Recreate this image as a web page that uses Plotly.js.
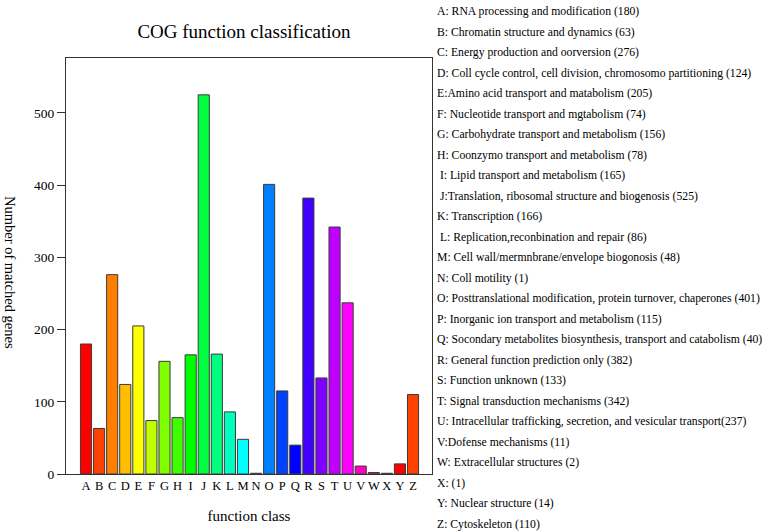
<!DOCTYPE html>
<html>
<head>
<meta charset="utf-8">
<script src="https://cdn.plot.ly/plotly-3.0.1.min.js"></script>
<style>html,body{margin:0;padding:0;background:#fff;}#chart{width:767px;height:532px;}</style>
</head>
<body>
<div id="chart"></div>
<script>
const categories = ["A","B","C","D","E","F","G","H","I","J","K","L","M","N","O","P","Q","R","S","T","U","V","W","X","Y","Z"];
const counts = [180,63,276,124,205,74,156,78,165,525,166,86,48,1,401,115,40,382,133,342,237,11,2,1,14,110];
const descriptions = [
  "A: RNA processing and modification (180)",
  "B: Chromatin structure and dynamics (63)",
  "C: Energy production and oorversion (276)",
  "D: Coll cycle control, cell division, chromosomo partitioning (124)",
  "E:Amino acid transport and matabolism (205)",
  "F: Nucleotide transport and mgtabolism (74)",
  "G: Carbohydrate transport and metabolism (156)",
  "H: Coonzymo transport and metabolism (78)",
  " I: Lipid transport and metabolism (165)",
  " J:Translation, ribosomal structure and biogenosis (525)",
  "K: Transcription (166)",
  " L: Replication,reconbination and repair (86)",
  "M: Cell wall/mermnbrane/envelope biogonosis (48)",
  "N: Coll motility (1)",
  "O: Posttranslational modification, protein turnover, chaperones (401)",
  "P: Inorganic ion transport and metabolism (115)",
  "Q: Socondary metabolites biosynthesis, transport and catabolism (40)",
  "R: General function prediction only (382)",
  "S: Function unknown (133)",
  "T: Signal transduction mechanisms (342)",
  "U: Intracellular trafficking, secretion, and vesicular transport(237)",
  "V:Dofense mechanisms (11)",
  "W: Extracellular structures (2)",
  "X: (1)",
  "Y: Nuclear structure (14)",
  "Z: Cytoskeleton (110)"
];
const barColors = ["#ff0000","#ff4000","#ff8000","#ffbf00","#ffff00","#bfff00","#80ff00","#40ff00","#00ff00","#00ff40","#00ff80","#00ffbf","#00ffff","#00bfff","#0080ff","#0040ff","#0000ff","#4000ff","#8000ff","#bf00ff","#ff00ff","#ff00bf","#ff0080","#ff0040","#ff0000","#ff4000"];
const yTicks = [0,100,200,300,400,500];

const FONT = "Liberation Serif, Times New Roman, serif";
const L = 66, R = 335, T = 58, B = 58, W = 767, H = 532;
const plotH = H - T - B, plotW = W - L - R;
const pyToPaper = py => (H - B - py) / plotH;
const pxToPaper = px => (px - L) / plotW;

const annotations = descriptions.map((d, i) => ({
  text: d, xref: "paper", yref: "paper",
  x: pxToPaper(435), y: pyToPaper(12 + i * 20.48),
  xanchor: "left", yanchor: "middle", showarrow: false,
  font: {family: FONT, size: 11.7, color: "#000"}
}));
annotations.push({
  text: "Number of matched genes", xref: "paper", yref: "paper",
  x: pxToPaper(10), y: pyToPaper(272), textangle: 90,
  xanchor: "center", yanchor: "middle", showarrow: false,
  font: {family: FONT, size: 14.5, color: "#000"}
});

const trace = {
  type: "bar", x: categories, y: counts,
  marker: {color: barColors, line: {color: "#3a3a3a", width: 1}},
  hoverinfo: "x+y"
};

const layout = {
  width: W, height: H,
  margin: {l: L, r: R, t: T, b: B},
  paper_bgcolor: "#fff", plot_bgcolor: "#fff",
  showlegend: false, bargap: 0.15,
  font: {family: FONT, color: "#000"},
  title: {text: "COG function classification", font: {family: FONT, size: 19, color: "#000"},
          x: 244 / W, xanchor: "center", y: 1 - 31 / H, yanchor: "middle"},
  xaxis: {
    type: "category", range: [-1.53, 26.45],
    tickmode: "array", tickvals: categories, ticktext: categories, tickangle: 0,
    showline: true, mirror: true, linecolor: "#333", linewidth: 1,
    ticks: "", showgrid: false, zeroline: false,
    tickfont: {family: FONT, size: 12.5, color: "#000"},
    title: {text: "function class", font: {family: FONT, size: 15, color: "#000"}, standoff: 18}
  },
  yaxis: {
    range: [0, 576], tickvals: yTicks,
    showline: true, mirror: true, linecolor: "#333", linewidth: 1,
    ticks: "outside", ticklen: 8, tickcolor: "#333",
    showgrid: false, zeroline: false,
    tickfont: {family: FONT, size: 13.5, color: "#000"}
  },
  annotations: annotations
};

Plotly.newPlot("chart", [trace], layout, {displayModeBar: false, staticPlot: true});
</script>
</body>
</html>
